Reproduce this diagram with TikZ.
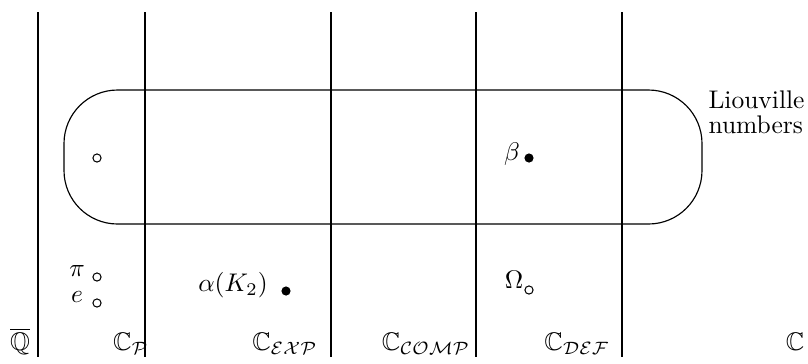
\documentclass[tikz,border=0pt]{standalone}
\usepackage{amssymb}
\begin{document}
\begin{tikzpicture}[x=0.3922pt,y=-0.3922pt,
  thinline/.style={line width=0.45pt},
  thickline/.style={line width=1pt},
  hollow/.style={circle,draw,line width=0.4pt,inner sep=0pt,minimum size=3.2pt},
  solid dot/.style={circle,fill,inner sep=0pt,minimum size=3.6pt},
  lbl/.style={inner sep=0pt}]
\useasboundingbox (0,0) rectangle (808,363);
% vertical lines
\draw[thickline] (38,12) -- (38,357);
\foreach \xx in {145,331,476,622} \draw[thinline] (\xx,12) -- (\xx,357);
% Liouville region
\draw[thinline,rounded corners=21pt] (64,90) rectangle (702,224);
\node[lbl,anchor=north west,align=left] (liou) at (708,90) {Liouville\\[-2pt]numbers};
% points
\node[hollow] (c0) at (97,158) {};
\node[lbl] (beta) at (512,154) {$\beta$};
\node[solid dot] (bdot) at (529,158) {};
\node[lbl] (pi) at (77,271) {$\pi$};
\node[hollow] (cpi) at (97,277) {};
\node[lbl] (e) at (77,297) {$e$};
\node[hollow] (ce) at (97,303) {};
\node[lbl] (alpha) at (233,285) {$\alpha(K_2)$};
\node[solid dot] (adot) at (286,291) {};
\node[lbl] (omega) at (514,280) {$\Omega$};
\node[hollow] (cO) at (529,290) {};
% set labels
\node[lbl] (Q) at (20,341) {$\overline{\mathbb{Q}}$};
\node[lbl] (CP) at (131,344) {$\mathbb{C}_{\mathcal{P}}$};
\node[lbl] (CE) at (285,344) {$\mathbb{C}_{\mathcal{EXP}}$};
\node[lbl] (CC) at (426,344) {$\mathbb{C}_{\mathcal{COMP}}$};
\node[lbl] (CD) at (577,344) {$\mathbb{C}_{\mathcal{DEF}}$};
\node[lbl] (C) at (795,342) {$\mathbb{C}$};
\end{tikzpicture}
\end{document}
